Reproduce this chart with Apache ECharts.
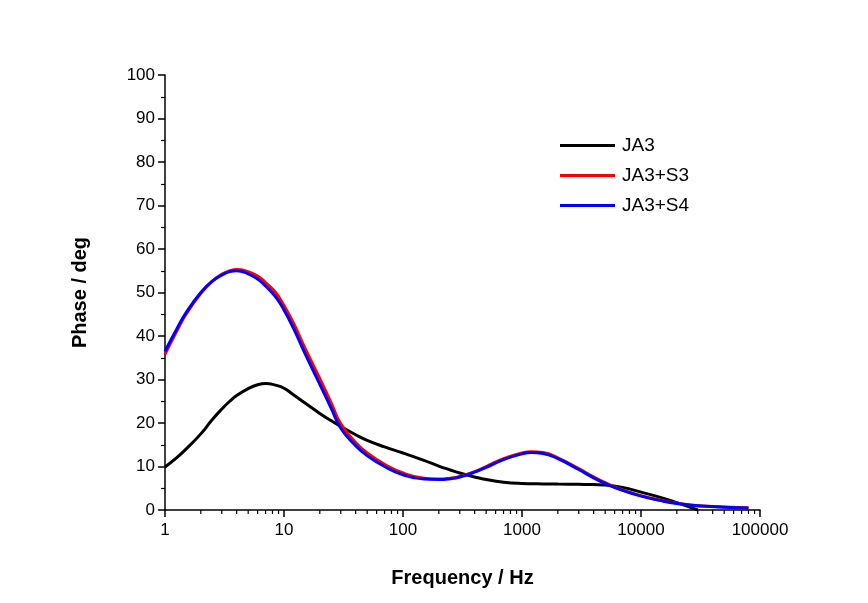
<!DOCTYPE html>
<html>
<head>
<meta charset="utf-8">
<script src="https://cdn.jsdelivr.net/npm/echarts@6/dist/echarts.min.js"></script>
<style>html,body{margin:0;padding:0;background:#fff}#c{width:868px;height:603px}</style>
</head>
<body>
<div id="c"></div>
<script>
const freqs = [1,1.25,1.5,2,2.5,3,3.5,4,5,6,7,8.5,10,12,15,20,25,30,40,50,70,100,150,200,250,300,400,500,700,1000,1200,1500,2000,3000,4000,5000,7000,10000,15000,20000,30000,50000,80000];
const ja3 = [9.9,12,14,17.5,20.8,23.2,25.0,26.3,27.9,28.8,29.1,28.7,28,26.5,24.6,22.2,20.5,19.2,17.3,16.0,14.5,13.1,11.4,10.1,9.2,8.5,7.6,7.0,6.4,6.1,6.05,6.0,5.95,5.9,5.85,5.75,5.2,4.1,2.8,1.7,0];
const ja3s3 = [35.8,41.0,45.0,49.8,52.6,54.2,55.0,55.3,54.8,53.8,52.3,50.0,47.0,43.0,37.2,30.2,24.5,19.8,15.5,13.1,10.5,8.5,7.3,7.1,7.3,7.7,8.8,10.0,11.8,13.1,13.4,13.2,12.0,9.5,7.6,6.3,4.6,3.3,2.2,1.6,1.0,0.7,0.5];
const ja3s4 = [36.5,41.5,45.3,50,52.6,54,54.8,55,54.3,53.1,51.5,49,46,41.8,36,28.9,23.3,18.8,14.8,12.5,10,8.1,7.1,7.0,7.2,7.6,8.7,9.8,11.6,12.9,13.2,13.0,11.8,9.3,7.4,6.1,4.5,3.2,2.1,1.5,0.95,0.65,0.45];
const seriesNames = ['JA3','JA3+S3','JA3+S4'];
// minor decade ticks (2..9 per decade)
const minorX = [];
for (let d = 1; d < 100000; d *= 10) for (let k = 2; k <= 9; k++) minorX.push(d * k);

const pair = (vals) => vals.map((v, i) => [freqs[i], v]);
const font = 'Liberation Sans, Arial, sans-serif';

const chart = echarts.init(document.getElementById('c'));
chart.setOption({
  backgroundColor: '#ffffff',
  animation: false,
  grid: { left: 165, right: 108, top: 75, bottom: 93 },
  legend: {
    orient: 'vertical', left: 555, top: 131, itemGap: 11,
    icon: 'rect', itemWidth: 55, itemHeight: 3,
    textStyle: { fontFamily: font, fontSize: 19, color: '#000', padding: [0,0,0,2] },
    data: seriesNames
  },
  xAxis: {
    type: 'log', logBase: 10, min: 1, max: 100000,
    name: 'Frequency / Hz', nameLocation: 'middle', nameGap: 58,
    nameTextStyle: { fontFamily: font, fontSize: 20, fontWeight: 'bold', color: '#000' },
    axisLine: { lineStyle: { color: '#000', width: 1.5 } },
    axisTick: { show: true, length: 7, lineStyle: { color: '#000', width: 1.5 } },
    axisLabel: { fontFamily: font, fontSize: 17, color: '#000', margin: 12, formatter: (v) => String(v) },
    splitLine: { show: false }
  },
  yAxis: {
    type: 'value', min: 0, max: 100, interval: 10,
    name: 'Phase / deg', nameLocation: 'middle', nameGap: 75, nameRotate: 90,
    nameTextStyle: { fontFamily: font, fontSize: 20, fontWeight: 'bold', color: '#000' },
    axisLine: { show: true, lineStyle: { color: '#000', width: 1.5 } },
    axisTick: { show: true, length: 7, lineStyle: { color: '#000', width: 1.5 } },
    minorTick: { show: true, splitNumber: 2, length: 4, lineStyle: { color: '#000', width: 1.2 } },
    axisLabel: { fontFamily: font, fontSize: 17, color: '#000', margin: 10 },
    splitLine: { show: false }
  },
  series: [
    {
      name: 'minorTicks', type: 'custom', silent: true, clip: false, z: 5,
      data: minorX.map((f) => [f, 0]),
      renderItem: (params, api) => {
        const p = api.coord([api.value(0), 0]);
        return { type: 'line', shape: { x1: p[0], y1: p[1], x2: p[0], y2: p[1] + 4 }, style: { stroke: '#000', lineWidth: 1.2 } };
      }
    },
    { name: seriesNames[0], type: 'line', smooth: 0.5, symbol: 'none', data: pair(ja3), lineStyle: { color: '#000', width: 3 }, itemStyle: { color: '#000' } },
    { name: seriesNames[1], type: 'line', smooth: 0.5, symbol: 'none', data: pair(ja3s3), lineStyle: { color: '#ff0000', width: 3 }, itemStyle: { color: '#ff0000' } },
    { name: seriesNames[2], type: 'line', smooth: 0.5, symbol: 'none', data: pair(ja3s4), lineStyle: { color: '#0000ff', width: 3 }, itemStyle: { color: '#0000ff' } }
  ]
});
</script>
</body>
</html>
